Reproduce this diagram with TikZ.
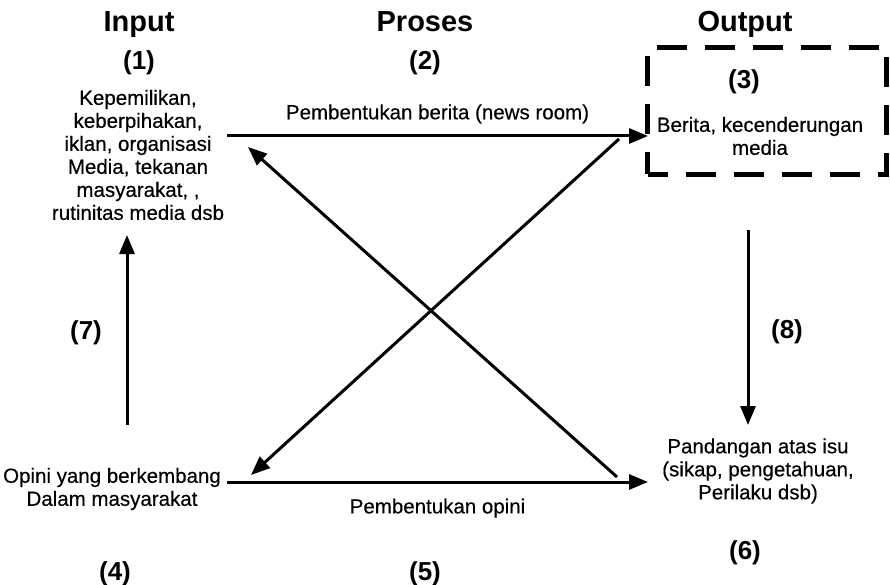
\documentclass[tikz,border=0pt]{standalone}
\usepackage{fontspec}
\setmainfont{Liberation Sans}
\newfontfamily\bodyfont[FakeBold=0.35]{Liberation Sans}
\usetikzlibrary{arrows.meta}
\begin{document}
\begin{tikzpicture}[x=1pt,y=-1pt,
  body/.style={align=center,font=\bodyfont\fontsize{20.5}{23}\selectfont,inner sep=0pt},
  head/.style={font=\fontsize{29}{30}\selectfont\bfseries,inner sep=0pt,anchor=base},
  num/.style={font=\fontsize{26}{28}\selectfont\bfseries,inner sep=0pt,anchor=base},
  conn/.style={line width=3pt,-{Triangle[length=19pt,width=15pt]}},
  dbox/.style={draw,line width=4.5pt,dash pattern=on 30pt off 18pt,dash phase=10pt}]
\useasboundingbox (0,0) rectangle (890,585);
% headers
\node[head] (hin) at (139,32) {Input};
\node[head] (hpr) at (425,32) {Proses};
\node[head] (hout) at (745,32) {Output};
\node[num] (n1) at (139,70) {(1)};
\node[num] (n2) at (425,70) {(2)};
% dashed output box
\node[dbox,minimum width=239pt,minimum height=127pt] (box) at (767,111) {};
\node[num] (n3) at (744,89) {(3)};
\node[body] (t3) at (760,136) {Berita, kecenderungan\\media};
% texts
\node[body] (t1) at (138,155) {Kepemilikan,\\keberpihakan,\\iklan, organisasi\\Media, tekanan\\masyarakat, ,\\rutinitas media dsb};
\node[body] (t4) at (112,489) {Opini yang berkembang\\Dalam masyarakat};
\node[body] (t6) at (758,471) {Pandangan atas isu\\(sikap, pengetahuan,\\Perilaku dsb)};
\node[num] (n4) at (115,580) {(4)};
\node[num] (n5) at (425,580) {(5)};
\node[num] (n6) at (745,559) {(6)};
\node[num] (n7) at (86,339) {(7)};
\node[num] (n8) at (787,338) {(8)};
% connector endpoints
\coordinate (a1) at (227,136);
\coordinate (a2) at (648,136);
\coordinate (b1) at (227,482);
\coordinate (b2) at (648,482);
\coordinate (c1) at (617,477);
\coordinate (c2) at (248,147);
\coordinate (d1) at (619,139);
\coordinate (d2) at (251,475);
\coordinate (e1) at (127,425);
\coordinate (e2) at (127,235);
\coordinate (f1) at (748,230);
\coordinate (f2) at (748,425);
\draw[conn] (a1) -- node[body,above=11pt] (l1) {Pembentukan berita (news room)} (a2);
\draw[conn] (b1) -- node[body,below=15pt] (l2) {Pembentukan opini} (b2);
\draw[conn] (c1) -- (c2);
\draw[conn] (d1) -- (d2);
\draw[conn] (e1) -- (e2);
\draw[conn] (f1) -- (f2);
\end{tikzpicture}
\end{document}
